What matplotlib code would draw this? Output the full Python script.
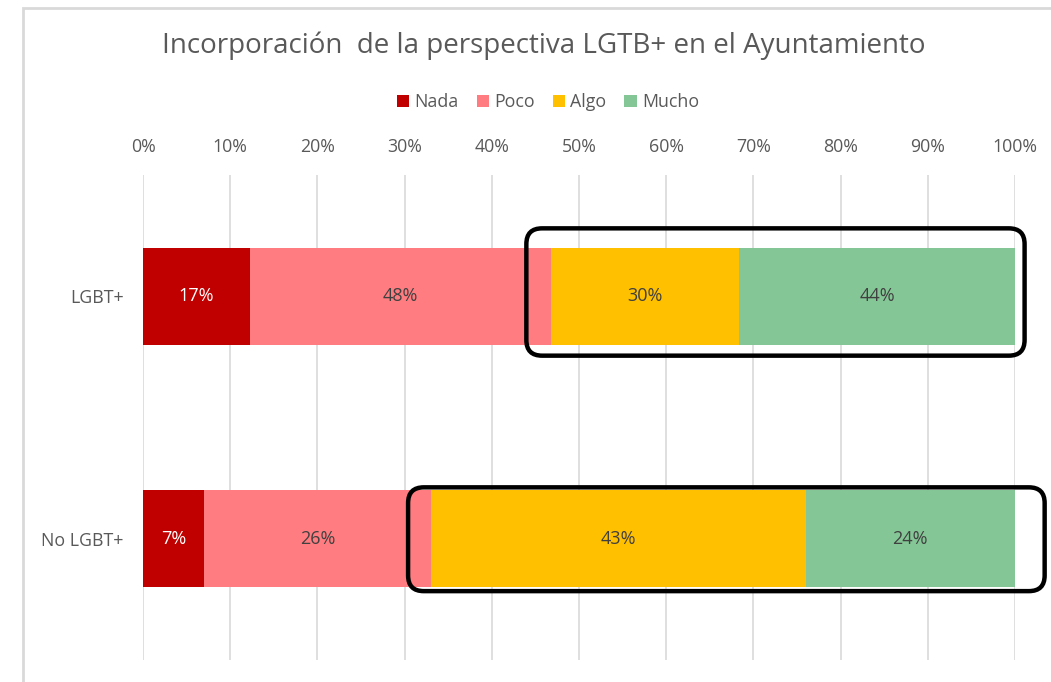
import numpy as np
import matplotlib.pyplot as plt
from matplotlib.patches import FancyBboxPatch, Rectangle

plt.rcParams['font.family'] = ['Open Sans', 'DejaVu Sans']

# data
groups = ["LGBT+", "No LGBT+"]
levels = ["Nada", "Poco", "Algo", "Mucho"]
nada = [17, 7]
poco = [48, 26]
algo = [30, 43]
mucho = [44, 24]
colors = ["#C00000", "#FF7C80", "#FFC000", "#84C695"]
text_colors = ["white", "#404040", "#404040", "#404040"]

vals = np.array([nada, poco, algo, mucho], dtype=float)
shares = vals / vals.sum(axis=0) * 100  # 100% stacked

fig = plt.figure(figsize=(10.51, 6.82), dpi=100)
ax = fig.add_axes([143/1051, 1-660/682, (1015-143)/1051, (660-175)/682])

y = np.arange(len(groups))
left = np.zeros(len(groups))
for i, lev in enumerate(levels):
    ax.barh(y, shares[i], left=left, height=0.4, color=colors[i], label=lev, zorder=2)
    for j in range(len(groups)):
        ax.text(left[j] + shares[i][j] / 2, y[j], f"{int(vals[i][j])}%",
                ha="center", va="center", fontsize=13, color=text_colors[i], zorder=3)
    left += shares[i]

ax.set_xlim(0, 100)
ax.set_ylim(1.5, -0.5)
ax.set_xticks(np.arange(0, 101, 10))
ax.set_xticklabels([f"{v}%" for v in range(0, 101, 10)])
ax.xaxis.tick_top()
ax.set_yticks(y)
ax.set_yticklabels(groups)
ax.tick_params(axis="both", length=0, labelsize=12.8, colors="#595959")
ax.tick_params(axis="x", pad=14)
ax.tick_params(axis="y", pad=14)
ax.grid(axis="x", color="#D9D9D9", linewidth=1.2, zorder=0)
for s in ax.spines.values():
    s.set_visible(False)

# rounded boxes around Algo + Mucho
algo_start = shares[0] + shares[1]
pads = [(2.8, 1.1, 0.08, 0.045), (2.6, 3.4, 0.012, 0.016)]
for j in range(len(groups)):
    pl, pr, pt, pb = pads[j]
    x0 = algo_start[j] - pl
    y0 = y[j] - 0.2 - pt
    box = FancyBboxPatch((x0, y0), 100 + pr - x0, 0.4 + pt + pb,
                         boxstyle="round,pad=0,rounding_size=1.8",
                         mutation_aspect=0.036,
                         fill=False, edgecolor="black", linewidth=3.2,
                         clip_on=False, zorder=4)
    ax.add_patch(box)

fig.suptitle("Incorporación  de la perspectiva LGTB+ en el Ayuntamiento",
             x=544/1051, y=1-46/682, va="center", fontsize=20, color="#595959")
fig.legend(loc="center", bbox_to_anchor=(548/1051, 1-102/682), ncol=4, frameon=False,
           fontsize=12.8, handlelength=0.7, handleheight=0.7, handletextpad=0.3,
           columnspacing=1.0, labelcolor="#595959")

# chart area border
fig.add_artist(Rectangle((23/1051, -0.1), 1.2, 1 - 8/682 + 0.1, transform=fig.transFigure,
                         fill=False, edgecolor="#D9D9D9", linewidth=2))

fig.savefig("out.png", dpi=100)
